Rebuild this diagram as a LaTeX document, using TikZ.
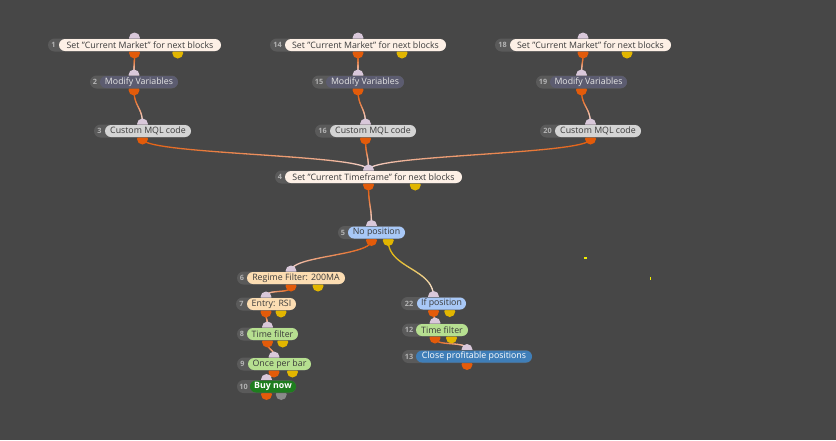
\documentclass[tikz,border=0pt]{standalone}
\usepackage{fontspec}
\setmainfont{Open Sans}
\pgfdeclarelayer{bg}\pgfdeclarelayer{wire}\pgfdeclarelayer{dot}
\pgfsetlayers{bg,wire,dot,main}
\definecolor{bgc}{HTML}{474747}
\definecolor{badgegray}{HTML}{5A5A5A}
\definecolor{numgray}{HTML}{B4B4B4}
\definecolor{darktxt}{HTML}{3A3A3A}
\definecolor{creamc}{HTML}{FDF0E6}
\definecolor{slatec}{HTML}{5C5C70}
\definecolor{mqlc}{HTML}{D4D4D4}
\definecolor{bluec}{HTML}{A8C8F7}
\definecolor{peachc}{HTML}{FCDDB2}
\definecolor{greenc}{HTML}{B6DF90}
\definecolor{dgreenc}{HTML}{1E7D1E}
\definecolor{steelc}{HTML}{3F7EB8}
\definecolor{inc}{HTML}{D9C8DA}
\definecolor{outc}{HTML}{E35B0A}
\definecolor{yelc}{HTML}{E2B600}
\definecolor{grayc}{HTML}{8A8A8A}
\definecolor{wirepink}{HTML}{F6E0E0}
\definecolor{dotyel}{HTML}{F2F000}
\newcommand\dq{\symbol{34}}
\tikzset{
  pillbase/.style={rectangle, rounded corners=6pt, minimum height=12pt, inner sep=0pt, font=\fontsize{8.8}{9}\selectfont},
  badge/.style={rectangle, rounded corners=6.5pt, minimum height=13pt, inner sep=0pt, fill=badgegray},
  numtxt/.style={inner sep=0pt, text=numgray, font=\fontsize{7.3}{8}\selectfont\bfseries},
  creampill/.style={pillbase, fill=creamc, text=darktxt},
  slatepill/.style={pillbase, fill=slatec, text=white!90!black},
  mqlpill/.style={pillbase, fill=mqlc, text=darktxt},
  bluepill/.style={pillbase, fill=bluec, text=darktxt},
  peachpill/.style={pillbase, fill=peachc, text=darktxt},
  greenpill/.style={pillbase, fill=greenc, text=darktxt},
  buypill/.style={pillbase, fill=dgreenc, text=white, font=\fontsize{8.8}{9}\selectfont\bfseries},
  steelpill/.style={pillbase, fill=steelc, text=white},
}
% #1 name, #2 number, #3 badge left, #4 pill left, #5 pill right, #6 y, #7 style, #8 text
\newcommand\blk[8]{%
  \pgfmathsetmacro\bc{(#3+#5)/2}%
  \pgfmathsetmacro\bq{#3+0.75*(#5-#3)}%
  \pgfmathsetmacro\pc{(#4+#5)/2}%
  \pgfmathsetmacro\pw{#5-#4}%
  \pgfmathsetmacro\bw{#5-#3}%
  \pgfmathsetmacro\nc{(#3+#4)/2}%
  \coordinate (#1in) at (\bc,#6-7);
  \coordinate (#1out) at (\bc,#6+8);
  \coordinate (#1alt) at (\bq,#6+8);
  \begin{pgfonlayer}{dot}
    \fill[inc] (#1in) circle[radius=5.5pt];
    \fill[outc] (#1out) circle[radius=5.5pt];
  \end{pgfonlayer}
  \node[badge, minimum width=\bw pt] (#1b) at (\bc,#6) {};
  \node[#7, minimum width=\pw pt] (#1) at (\pc,#6) {#8};
  \node[numtxt] (#1n) at (\nc,#6) {#2};
}
\newcommand\second[2]{%
  \begin{pgfonlayer}{dot}\fill[#2] (#1alt) circle[radius=5.5pt];\end{pgfonlayer}%
}
% gradient wire from #1 to #2 starting with colour #3
\newcommand\gwire[3]{%
  \pgfpointanchor{#1}{center}\pgfgetlastxy{\wxa}{\wya}%
  \pgfpointanchor{#2}{center}\pgfgetlastxy{\wxd}{\wyd}%
  \pgfmathsetmacro\WXA{\wxa}\pgfmathsetmacro\WYA{\wya}%
  \pgfmathsetmacro\WXD{\wxd}\pgfmathsetmacro\WYD{\wyd}%
  \pgfmathsetmacro\WD{max(0.5*abs(\WYA-\WYD),9)}%
  \begin{pgfonlayer}{wire}
  \foreach \k in {0,...,29}{%
    \pgfmathsetmacro\ta{\k/30}%
    \pgfmathsetmacro\tb{(\k+1)/30}%
    \pgfmathsetmacro\xa{\WXA*((1-\ta)^3+3*(1-\ta)^2*\ta)+\WXD*(3*(1-\ta)*\ta^2+\ta^3)}%
    \pgfmathsetmacro\ya{(1-\ta)^3*\WYA+3*(1-\ta)^2*\ta*(\WYA-\WD)+3*(1-\ta)*\ta^2*(\WYD+\WD)+\ta^3*\WYD}%
    \pgfmathsetmacro\xb{\WXA*((1-\tb)^3+3*(1-\tb)^2*\tb)+\WXD*(3*(1-\tb)*\tb^2+\tb^3)}%
    \pgfmathsetmacro\yb{(1-\tb)^3*\WYA+3*(1-\tb)^2*\tb*(\WYA-\WD)+3*(1-\tb)*\tb^2*(\WYD+\WD)+\tb^3*\WYD}%
    \pgfmathtruncatemacro\mx{100*(1-((\ta+\tb)/2)^1.4)}%
    \draw[color=#3!\mx!wirepink, line width=1.3pt, line cap=round] (\xa pt,\ya pt) -- (\xb pt,\yb pt);
  }
  \end{pgfonlayer}%
}
\begin{document}
\begin{tikzpicture}[x=1pt,y=-1pt]
\begin{pgfonlayer}{bg}
\fill[bgc] (0,0) rectangle (836,440);
\end{pgfonlayer}
\useasboundingbox (0,0) rectangle (836,440);

\blk{n1}{1}{48}{59}{221}{45}{creampill}{Set \dq Current Market\dq\ for next blocks}
\second{n1}{yelc}
\blk{n2}{2}{90}{100}{178}{82}{slatepill}{Modify Variables}
\blk{n3}{3}{94}{105}{191}{131}{mqlpill}{Custom MQL code}

\blk{n14}{14}{270}{285}{446}{45}{creampill}{Set \dq Current Market\dq\ for next blocks}
\second{n14}{yelc}
\blk{n15}{15}{312}{326}{404}{82}{slatepill}{Modify Variables}
\blk{n16}{16}{315}{330}{416}{131}{mqlpill}{Custom MQL code}

\blk{n18}{18}{495}{510}{671}{45}{creampill}{Set \dq Current Market\dq\ for next blocks}
\second{n18}{yelc}
\blk{n19}{19}{536}{550}{627}{82}{slatepill}{Modify Variables}
\blk{n20}{20}{540}{555}{641}{131}{mqlpill}{Custom MQL code}

\blk{n4}{4}{275}{285}{462}{177}{creampill}{Set \dq Current Timeframe\dq\ for next blocks}
\second{n4}{yelc}
\blk{n5}{5}{338}{348}{405}{232.5}{bluepill}{No position}
\second{n5}{yelc}

\blk{n6}{6}{237}{247}{345}{278}{peachpill}{Regime Filter: 200MA}
\second{n6}{yelc}
\blk{n7}{7}{236}{247}{296}{304}{peachpill}{Entry: RSI}
\second{n7}{yelc}
\blk{n8}{8}{237}{247}{298}{334}{greenpill}{Time filter}
\second{n8}{yelc}
\blk{n9}{9}{237}{248}{311}{364}{greenpill}{Once per bar}
\second{n9}{yelc}
\blk{n10}{10}{237}{250}{296}{386.5}{buypill}{Buy now}
\second{n10}{grayc}

\blk{n22}{22}{401}{417}{466}{303.5}{bluepill}{If position}
\second{n22}{yelc}
\blk{n12}{12}{402}{416}{468}{330}{greenpill}{Time filter}
\second{n12}{yelc}
\blk{n13}{13}{402}{416}{532}{356.5}{steelpill}{Close profitable positions}

\gwire{n1out}{n2in}{outc}
\gwire{n2out}{n3in}{outc}
\gwire{n3out}{n4in}{outc}
\gwire{n14out}{n15in}{outc}
\gwire{n15out}{n16in}{outc}
\gwire{n16out}{n4in}{outc}
\gwire{n18out}{n19in}{outc}
\gwire{n19out}{n20in}{outc}
\gwire{n20out}{n4in}{outc}
\gwire{n4out}{n5in}{outc}
\gwire{n5out}{n6in}{outc}
\gwire{n5alt}{n22in}{yelc}
\gwire{n6out}{n7in}{outc}
\gwire{n7out}{n8in}{outc}
\gwire{n8out}{n9in}{outc}
\gwire{n9out}{n10in}{outc}
\gwire{n22out}{n12in}{outc}
\gwire{n12out}{n13in}{outc}

\fill[dotyel] (583.5,257) rectangle (586.5,259);
\fill[dotyel] (649.5,276.5) rectangle (651,279.5);
\end{tikzpicture}
\end{document}
